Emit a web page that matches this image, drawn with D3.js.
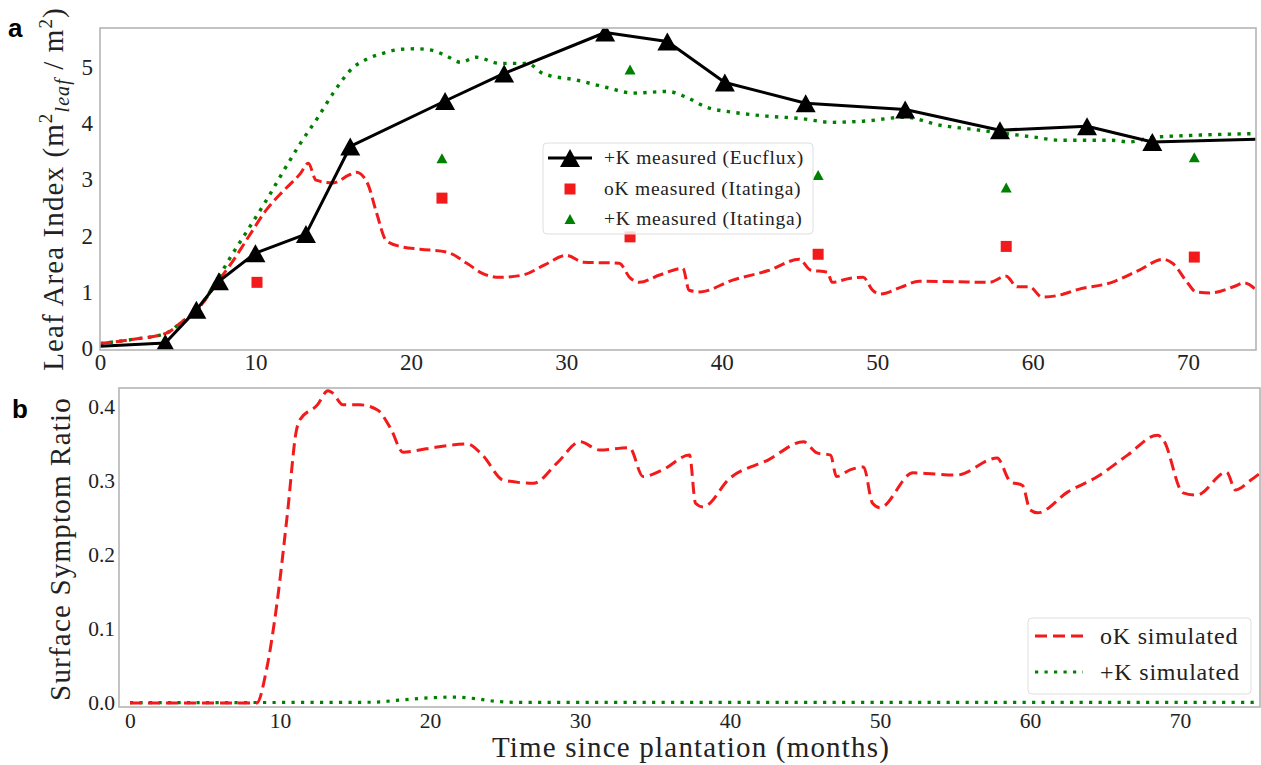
<!DOCTYPE html>
<html><head><meta charset="utf-8">
<script src="https://cdn.jsdelivr.net/npm/d3@7"></script>
<style>body{margin:0;background:#fff}</style>
</head><body>
<svg id="c" width="1261" height="765"></svg>
<script>
// ---------- Panel a: Leaf Area Index ----------
const xTicksA = [0, 10, 20, 30, 40, 50, 60, 70];
const yTicksA = [0, 1, 2, 3, 4, 5];

// +K measured (Eucflux): line passes through these points; markers on inner points
const eucMonths = [0, 4.2, 6.2, 7.65, 10.0, 13.25, 16.1, 22.2, 26.0, 32.5, 36.5, 40.2, 45.4, 51.8, 57.9, 63.5, 67.7, 74.4];
const eucLAI    = [0.03, 0.09, 0.68, 1.19, 1.69, 2.03, 3.59, 4.40, 4.89, 5.62, 5.46, 4.73, 4.36, 4.25, 3.88, 3.95, 3.67, 3.72];

// oK measured (Itatinga)
const itaOkMonths = [10.1, 22.0, 34.1, 46.2, 58.3, 70.4];
const itaOkLAI    = [1.17, 2.67, 1.98, 1.67, 1.81, 1.62];

// +K measured (Itatinga)
const itaPkMonths = [22.0, 34.1, 46.2, 58.3, 70.4];
const itaPkLAI    = [3.38, 4.96, 3.08, 2.86, 3.40];

// oK simulated LAI
const okSimMonths = [0, 2, 4.3, 5.2, 6.4, 7.5, 8.6, 9.6, 10.7, 11.8, 12.9, 13.4, 13.9, 15.0, 16.0, 16.5, 17.2, 17.8, 18.4, 19.3, 20.6, 22.3, 23.6, 24.6, 25.7, 27.2, 28.6, 30.0, 31.1, 33.4, 34.1, 34.7, 36.0, 37.5, 37.9, 38.6, 40.7, 43.0, 45.0, 45.7, 46.8, 47.1, 48.2, 49.1, 49.7, 50.2, 51.5, 52.7, 55.0, 57.2, 58.3, 59.0, 59.8, 60.6, 61.5, 63.0, 65.1, 66.8, 68.4, 69.0, 70.0, 70.5, 71.4, 73.0, 73.6, 74.4];
const okSimLAI    = [0.08, 0.15, 0.27, 0.45, 0.73, 1.15, 1.57, 2.0, 2.46, 2.8, 3.11, 3.29, 2.99, 2.94, 3.08, 3.13, 2.94, 2.4, 1.92, 1.81, 1.76, 1.71, 1.51, 1.33, 1.26, 1.3, 1.48, 1.65, 1.53, 1.51, 1.25, 1.17, 1.3, 1.42, 1.03, 1.0, 1.21, 1.38, 1.58, 1.39, 1.35, 1.17, 1.24, 1.26, 1.03, 0.96, 1.08, 1.19, 1.18, 1.17, 1.28, 1.09, 1.09, 0.91, 0.93, 1.05, 1.17, 1.38, 1.58, 1.51, 1.15, 1.0, 0.98, 1.1, 1.16, 1.03];

// +K simulated LAI
const pkSimMonths = [0, 2, 4.3, 5.2, 6.4, 7.5, 8.4, 9.5, 10.7, 11.8, 12.9, 14.0, 15.0, 16.3, 17.2, 18.2, 19.3, 20.4, 21.4, 22.3, 23.2, 24.2, 25.7, 27.5, 28.5, 30.7, 32.6, 34.3, 36.5, 37.7, 39.0, 40.7, 42.9, 45.0, 47.1, 49.1, 51.8, 54.0, 56.0, 58.0, 60.0, 61.9, 65.1, 66.2, 67.7, 70.5, 74.4];
const pkSimLAI    = [0.08, 0.15, 0.27, 0.45, 0.73, 1.2, 1.62, 2.1, 2.63, 3.15, 3.65, 4.1, 4.54, 5.0, 5.15, 5.25, 5.32, 5.33, 5.3, 5.2, 5.09, 5.18, 5.07, 5.07, 4.89, 4.77, 4.64, 4.54, 4.57, 4.47, 4.29, 4.2, 4.13, 4.09, 4.02, 4.04, 4.11, 3.97, 3.9, 3.83, 3.76, 3.7, 3.7, 3.67, 3.75, 3.79, 3.82];

// ---------- Panel b: Surface Symptom Ratio ----------
const xTicksB = [0, 10, 20, 30, 40, 50, 60, 70];
const yTicksB = [0.0, 0.1, 0.2, 0.3, 0.4];

const okRatioMonths = [0, 2, 4, 6, 8.45, 9.1, 9.8, 10.5, 11.1, 11.3, 12.5, 13.2, 13.5, 14.2, 15.3, 16.5, 17.4, 18.2, 19.3, 20.2, 22.5, 23.5, 24.9, 26.9, 28.5, 30.0, 31.3, 33.3, 34.2, 35.5, 37.3, 37.7, 38.2, 40.0, 42.5, 44.9, 45.8, 46.7, 47.1, 48.0, 48.9, 49.5, 50.0, 52.2, 55.1, 57.8, 58.7, 59.5, 60.0, 60.5, 62.5, 64.5, 66.5, 68.5, 68.9, 70.2, 71.1, 73.1, 73.7, 74.7, 75.3];
const okRatio       = [0, 0, 0, 0, 0, 0.045, 0.135, 0.257, 0.369, 0.382, 0.403, 0.422, 0.419, 0.403, 0.403, 0.396, 0.37, 0.339, 0.342, 0.345, 0.35, 0.335, 0.301, 0.297, 0.325, 0.353, 0.342, 0.345, 0.306, 0.315, 0.335, 0.27, 0.265, 0.304, 0.328, 0.353, 0.338, 0.335, 0.306, 0.315, 0.319, 0.27, 0.264, 0.311, 0.308, 0.331, 0.299, 0.294, 0.261, 0.257, 0.285, 0.306, 0.335, 0.362, 0.355, 0.284, 0.281, 0.312, 0.288, 0.301, 0.31];

const pkRatioMonths = [0, 16, 18, 20, 21.5, 23, 24.5, 26, 75.3];
const pkRatio       = [0.0005, 0.001, 0.004, 0.007, 0.008, 0.006, 0.002, 0.0008, 0.0008];

// ---------- drawing ----------
const RED = "#f21a1a", GREEN = "#008000", FRAME = "#b5b5b5";
const serif = "'Liberation Serif', 'Times New Roman', serif";
const svg = d3.select("#c");
const zip = (xs, ys) => xs.map((x, i) => [x, ys[i]]);

function tri(hw, hh) { return `M0,${-hh}L${-hw},${hh}L${hw},${hh}Z`; }

// Panel a scales
const xA = d3.scaleLinear().domain([0, 74.37]).range([100, 1256]);
const yA = d3.scaleLinear().domain([-0.035, 5.70]).range([350, 28]);
// Panel b scales
const xB = d3.scaleLinear().domain([-0.733, 75.33]).range([119, 1260]);
const yB = d3.scaleLinear().domain([-0.0054, 0.4257]).range([707, 388]);

function styleAxis(g, fs) {
  g.select(".domain").remove();
  g.attr("font-family", serif);
  g.selectAll("text").attr("font-family", serif).attr("font-size", fs).attr("fill", "#222");
}

// Panel a axes
svg.append("g").attr("transform", "translate(0,350)")
  .call(d3.axisBottom(xA).tickValues(xTicksA).tickSize(0).tickPadding(4).tickFormat(d3.format("d")))
  .call(g => styleAxis(g, 23));
svg.append("g").attr("transform", "translate(100,0)")
  .call(d3.axisLeft(yA).tickValues(yTicksA).tickSize(0).tickPadding(7).tickFormat(d3.format("d")))
  .call(g => styleAxis(g, 23));

// Panel b axes
svg.append("g").attr("transform", "translate(0,707)")
  .call(d3.axisBottom(xB).tickValues(xTicksB).tickSize(0).tickPadding(6).tickFormat(d3.format("d")))
  .call(g => styleAxis(g, 21.5));
svg.append("g").attr("transform", "translate(119,0)")
  .call(d3.axisLeft(yB).tickValues(yTicksB).tickSize(0).tickPadding(4).tickFormat(d3.format(".1f")))
  .call(g => styleAxis(g, 21.5));

// clip paths
const defs = svg.append("defs");
defs.append("clipPath").attr("id", "clipA").append("rect")
  .attr("x", xA.range()[0]).attr("y", yA.range()[1]).attr("width", xA.range()[1] - xA.range()[0]).attr("height", yA.range()[0] - yA.range()[1]);
defs.append("clipPath").attr("id", "clipB").append("rect")
  .attr("x", xB.range()[0]).attr("y", yB.range()[1] - 4).attr("width", xB.range()[1] - xB.range()[0]).attr("height", yB.range()[0] - yB.range()[1] + 4);

const lineA = d3.line().x(d => xA(d[0])).y(d => yA(d[1])).curve(d3.curveMonotoneX);
const lineAlin = d3.line().x(d => xA(d[0])).y(d => yA(d[1]));
const lineB = d3.line().x(d => xB(d[0])).y(d => yB(d[1])).curve(d3.curveMonotoneX);

const gA = svg.append("g").attr("clip-path", "url(#clipA)");
gA.append("path").attr("d", lineA(zip(pkSimMonths, pkSimLAI)))
  .attr("fill", "none").attr("stroke", GREEN).attr("stroke-width", 3.4).attr("stroke-dasharray", "3.4,6.3");
gA.append("path").attr("d", lineA(zip(okSimMonths, okSimLAI)))
  .attr("fill", "none").attr("stroke", RED).attr("stroke-width", 3).attr("stroke-dasharray", "11,5");
gA.append("path").attr("d", lineAlin(zip(eucMonths, eucLAI)))
  .attr("fill", "none").attr("stroke", "#000").attr("stroke-width", 3).attr("stroke-linejoin", "round");

const eucPts = zip(eucMonths, eucLAI).slice(1, -1);
gA.selectAll("path.euc").data(eucPts).enter().append("path").attr("class", "euc")
  .attr("transform", d => `translate(${xA(d[0])},${yA(d[1])})`)
  .attr("d", tri(10, 9)).attr("fill", "#000");
gA.selectAll("rect.ok").data(zip(itaOkMonths, itaOkLAI)).enter().append("rect").attr("class", "ok")
  .attr("x", d => xA(d[0]) - 5.5).attr("y", d => yA(d[1]) - 5.5).attr("width", 11).attr("height", 11).attr("fill", RED);
gA.selectAll("path.pk").data(zip(itaPkMonths, itaPkLAI)).enter().append("path").attr("class", "pk")
  .attr("transform", d => `translate(${xA(d[0])},${yA(d[1])})`)
  .attr("d", tri(5.5, 5)).attr("fill", GREEN);

// Panel a frame
svg.append("rect").attr("x", xA.range()[0]).attr("y", yA.range()[1])
  .attr("width", xA.range()[1] - xA.range()[0]).attr("height", yA.range()[0] - yA.range()[1])
  .attr("fill", "none").attr("stroke", FRAME).attr("stroke-width", 1.6);

// Panel a legend
const legA = svg.append("g");
legA.append("rect").attr("x", 543).attr("y", 143).attr("width", 270).attr("height", 91).attr("rx", 4)
  .attr("fill", "#fff").attr("fill-opacity", 0.82).attr("stroke", "#dedede").attr("stroke-width", 1);
const legAItems = ["+K measured (Eucflux)", "oK measured (Itatinga)", "+K measured (Itatinga)"];
const legAy = [158, 189, 219];
legA.append("line").attr("x1", 548).attr("x2", 592).attr("y1", legAy[0]).attr("y2", legAy[0]).attr("stroke", "#000").attr("stroke-width", 3);
legA.append("path").attr("transform", `translate(570,${legAy[0]})`).attr("d", tri(10, 9)).attr("fill", "#000");
legA.append("rect").attr("x", 564.5).attr("y", legAy[1] - 5.5).attr("width", 11).attr("height", 11).attr("fill", RED);
legA.append("path").attr("transform", `translate(570,${legAy[2]})`).attr("d", tri(5.5, 5)).attr("fill", GREEN);
legA.selectAll("text").data(legAItems).enter().append("text")
  .attr("x", 604).attr("y", (d, i) => legAy[i]).attr("dy", "0.33em")
  .attr("font-family", serif).attr("font-size", 19.5).attr("letter-spacing", 0.75).attr("fill", "#222").text(d => d);

// Panel b lines
const gB = svg.append("g").attr("clip-path", "url(#clipB)");
gB.append("path").attr("d", lineB(zip(pkRatioMonths, pkRatio)))
  .attr("fill", "none").attr("stroke", GREEN).attr("stroke-width", 3.2).attr("stroke-dasharray", "3.2,6.3");
gB.append("path").attr("d", lineB(zip(okRatioMonths, okRatio)))
  .attr("fill", "none").attr("stroke", RED).attr("stroke-width", 3).attr("stroke-dasharray", "12,6");

svg.append("rect").attr("x", xB.range()[0]).attr("y", yB.range()[1])
  .attr("width", xB.range()[1] - xB.range()[0]).attr("height", yB.range()[0] - yB.range()[1])
  .attr("fill", "none").attr("stroke", FRAME).attr("stroke-width", 1.6);

// Panel b legend
const legB = svg.append("g");
legB.append("rect").attr("x", 1028).attr("y", 618).attr("width", 223).attr("height", 76).attr("rx", 4)
  .attr("fill", "#fff").attr("fill-opacity", 0.82).attr("stroke", "#dedede").attr("stroke-width", 1);
const legBItems = ["oK simulated", "+K simulated"];
const legBy = [636, 672];
legB.append("line").attr("x1", 1035).attr("x2", 1083).attr("y1", legBy[0]).attr("y2", legBy[0])
  .attr("stroke", RED).attr("stroke-width", 3).attr("stroke-dasharray", "12,6");
legB.append("line").attr("x1", 1035).attr("x2", 1083).attr("y1", legBy[1]).attr("y2", legBy[1])
  .attr("stroke", GREEN).attr("stroke-width", 3.2).attr("stroke-dasharray", "3.2,6.3");
legB.selectAll("text").data(legBItems).enter().append("text")
  .attr("x", 1100).attr("y", (d, i) => legBy[i]).attr("dy", "0.33em")
  .attr("font-family", serif).attr("font-size", 24).attr("letter-spacing", 0.8).attr("fill", "#222").text(d => d);

// Axis titles
const ylabA = svg.append("text").attr("transform", "translate(63,189) rotate(-90)")
  .attr("text-anchor", "middle").attr("font-family", serif).attr("font-size", 29)
  .attr("letter-spacing", 1.1).attr("fill", "#222");
ylabA.append("tspan").text("Leaf Area Index (m");
ylabA.append("tspan").attr("font-size", 19).attr("dy", -11).text("2");
ylabA.append("tspan").attr("font-size", 20).attr("font-style", "italic").attr("dy", 17).text("leaf");
ylabA.append("tspan").attr("dy", -6).text(" / m");
ylabA.append("tspan").attr("font-size", 19).attr("dy", -11).text("2");
ylabA.append("tspan").attr("dy", 11).text(")");

svg.append("text").attr("transform", "translate(70,549) rotate(-90)")
  .attr("text-anchor", "middle").attr("font-family", serif).attr("font-size", 29)
  .attr("letter-spacing", 1.2).attr("fill", "#222").text("Surface Symptom Ratio");

svg.append("text").attr("x", 691).attr("y", 757)
  .attr("text-anchor", "middle").attr("font-family", serif).attr("font-size", 29)
  .attr("letter-spacing", 1.2).attr("fill", "#222").text("Time since plantation (months)");

// Panel letters
svg.append("text").attr("x", 8).attr("y", 37).attr("font-family", "'Liberation Sans', Arial, sans-serif")
  .attr("font-weight", "bold").attr("font-size", 26).attr("fill", "#000").text("a");
svg.append("text").attr("x", 12).attr("y", 418).attr("font-family", "'Liberation Sans', Arial, sans-serif")
  .attr("font-weight", "bold").attr("font-size", 26).attr("fill", "#000").text("b");
</script>
</body></html>
